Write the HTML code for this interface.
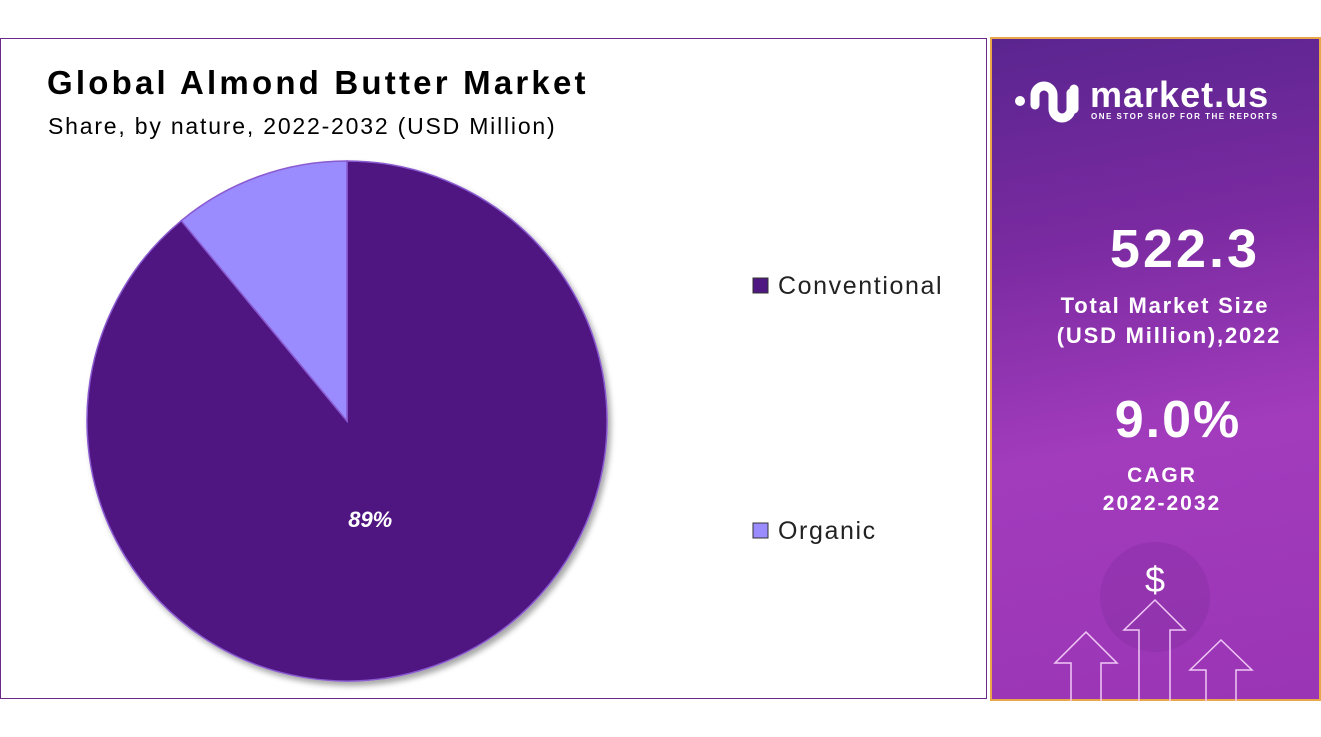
<!DOCTYPE html>
<html><head><meta charset="utf-8"><style>
body{margin:0;width:1321px;height:737px;background:#fff;font-family:"Liberation Sans",sans-serif;position:relative;overflow:hidden}
.abs{position:absolute}
</style></head><body>
<div class="abs" style="left:0;top:38px;width:987px;height:661px;border:1px solid #6a2a8a;box-sizing:border-box"></div>
<div class="abs" style="left:47px;top:64px;font-size:33px;font-weight:bold;color:#000;letter-spacing:3.2px">Global Almond Butter Market</div>
<div class="abs" style="left:48px;top:113px;font-size:23px;color:#000;letter-spacing:1.8px">Share, by nature, 2022-2032 (USD Million)</div>
<svg class="abs" style="left:0;top:0" width="990" height="737">
<defs><filter id="sh" x="-10%" y="-10%" width="130%" height="130%"><feDropShadow dx="3" dy="4" stdDeviation="3" flood-opacity="0.35"/></filter></defs>
<g id="pie" filter="url(#sh)"></g>
<g id="legend"></g>
</svg>
<div class="abs" style="left:990px;top:37px;width:331px;height:664px;border:2px solid #e8a84a;box-sizing:border-box;background:linear-gradient(170deg,#5a2590 0%,#7a2aa0 30%,#a23cbd 60%,#9a35b5 100%)"></div>
<svg class="abs" style="left:990px;top:37px" width="331" height="664">
<circle cx="165" cy="560" r="55" fill="#8a2fa5" opacity="0.5"/>
<text x="165" y="555" text-anchor="middle" font-size="36" fill="#fff" font-family="Liberation Sans">$</text>
<g fill="none" stroke="#f0c8f5" stroke-width="1.5">
<path d="M81,664 V626 H65 L96,595 L127,626 H111 V664"/>
<path d="M149,664 V593 H134 L165,563 L195,593 H180 V664"/>
<path d="M216,664 V633 H200 L231,603 L262,633 H246 V664"/>
</g>
<g fill="none" stroke="#fff" stroke-width="9" stroke-linecap="round">
<circle cx="30" cy="64" r="5" fill="#fff" stroke="none"/>
<path d="M45,68 V58 a9,9 0 0 1 18,0 V72 a9,9 0 0 0 18,0 V56"/>
<path d="M84,72 V52"/>
</g>
<text x="100" y="70" font-size="36" font-weight="bold" fill="#fff" letter-spacing="1" font-family="Liberation Sans">market.us</text>
<text x="101" y="82" font-size="8" font-weight="bold" fill="#fff" letter-spacing="1.5" font-family="Liberation Sans">ONE STOP SHOP FOR THE REPORTS</text>
</svg>
<div class="abs" style="left:1060px;top:218px;width:250px;text-align:center;font-size:54px;font-weight:bold;color:#fff;letter-spacing:3px">522.3</div>
<div class="abs" style="left:1035px;top:291px;width:260px;text-align:center;font-size:22px;font-weight:bold;color:#fff;line-height:30px;letter-spacing:1.8px">Total Market Size<br>&nbsp;(USD Million),2022</div>
<div class="abs" style="left:1053px;top:390px;width:250px;text-align:center;font-size:52px;font-weight:bold;color:#fff;letter-spacing:2px">9.0%</div>
<div class="abs" style="left:1037px;top:462px;width:250px;text-align:center;font-size:21px;font-weight:bold;color:#fff;line-height:28px;letter-spacing:2px">CAGR<br>2022-2032</div>
<script>
const categories=["Conventional","Organic"];
const shares=[89,11];
const colors=["#4f1782","#9a8cff"];
const labels=["89%",""];
const NS="http://www.w3.org/2000/svg";
const cx=347,cy=421,r=260;
const pie=document.getElementById('pie');
const total=shares.reduce((a,b)=>a+b,0);
let a0=0;
shares.forEach((v,i)=>{
  const a1=a0+v/total*2*Math.PI;
  const p=t=>[cx+r*Math.sin(t),cy-r*Math.cos(t)];
  const [x0,y0]=p(a0),[x1,y1]=p(a1);
  const path=document.createElementNS(NS,'path');
  path.setAttribute('d',`M${cx},${cy} L${x0},${y0} A${r},${r} 0 ${a1-a0>Math.PI?1:0} 1 ${x1},${y1} Z`);
  path.setAttribute('fill',colors[i]);
  path.setAttribute('stroke','#8a5ad0');
  path.setAttribute('stroke-width','1.5');
  
  
  pie.appendChild(path);
  if(labels[i]){
    const m=(a0+a1)/2;const lr=r*0.4;
    const t=document.createElementNS(NS,'text');
    t.setAttribute('x',cx+lr*Math.sin(m)-12);t.setAttribute('y',cy-lr*Math.cos(m)+8);
    t.setAttribute('text-anchor','middle');t.setAttribute('font-size','22');
    t.setAttribute('font-weight','bold');t.setAttribute('font-style','italic');t.setAttribute('fill','#fff');
    t.setAttribute('font-family','Liberation Sans');
    t.textContent=labels[i];
    
    
    document.querySelector('svg').appendChild(t);
  }
  a0=a1;
});
const lg=document.getElementById('legend');
const ly=[286,531];
categories.forEach((c,i)=>{
  const rect=document.createElementNS(NS,'rect');
  rect.setAttribute('x',753);rect.setAttribute('y',ly[i]-8);rect.setAttribute('width',15);rect.setAttribute('height',15);
  rect.setAttribute('fill',colors[i]);rect.setAttribute('stroke','#333');rect.setAttribute('stroke-width','1');
  
  
  lg.appendChild(rect);
  const t=document.createElementNS(NS,'text');
  t.setAttribute('x',778);t.setAttribute('y',ly[i]+8);t.setAttribute('font-size','25');t.setAttribute('fill','#222');
  t.setAttribute('letter-spacing','1.6');
  t.setAttribute('font-family','Liberation Sans');
  t.textContent=c;
  
  
  lg.appendChild(t);
});
</script>
</body></html>
